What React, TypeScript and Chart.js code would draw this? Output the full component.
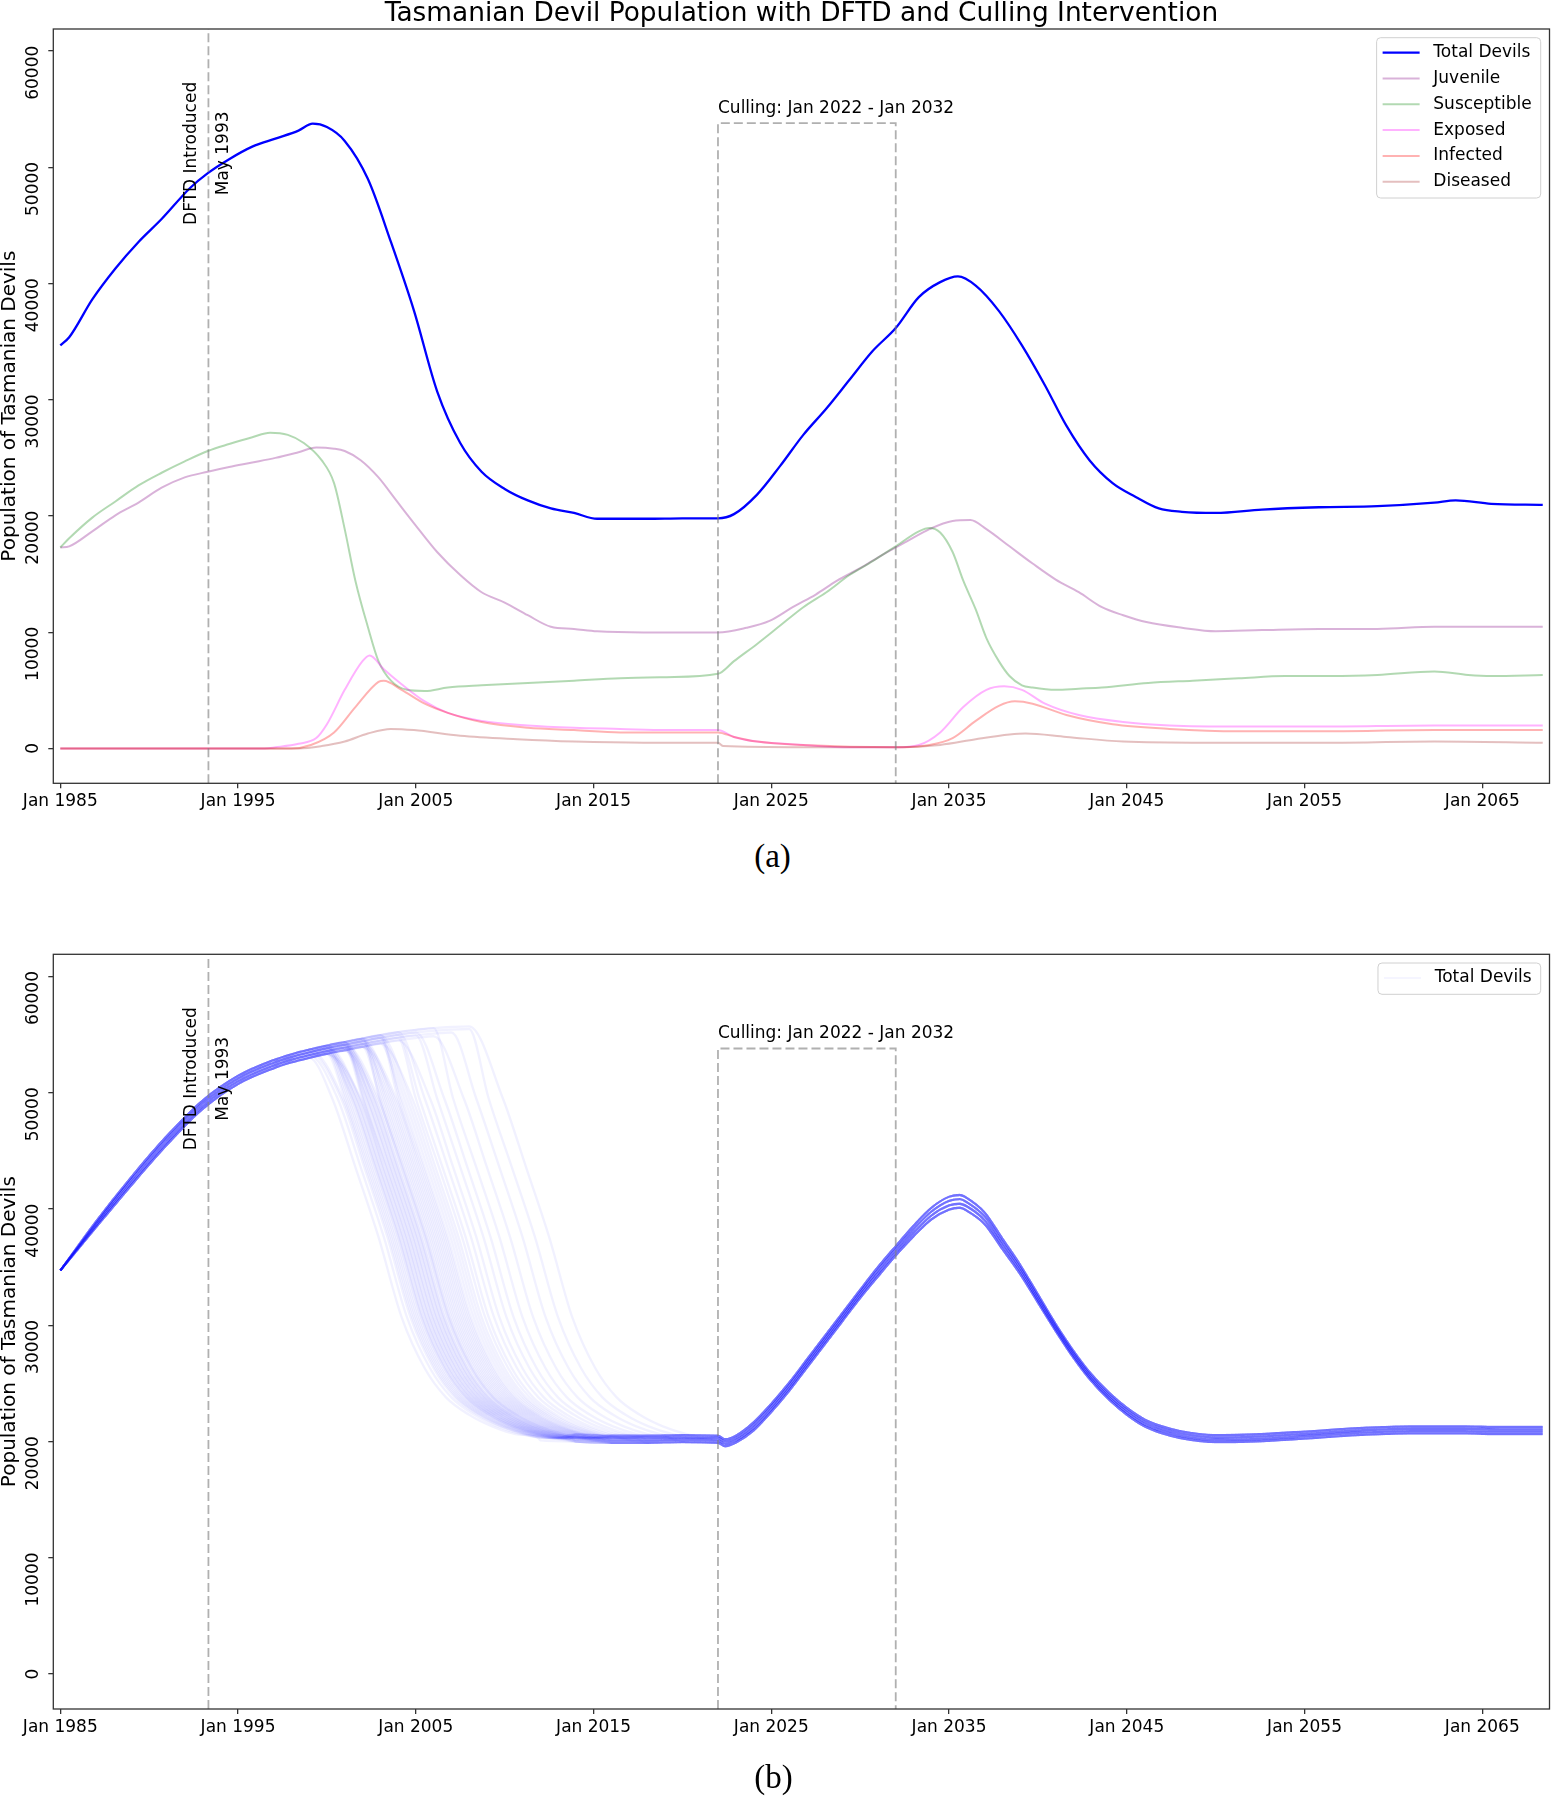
import React, { useEffect, useRef } from 'react';
import { Chart, registerables } from 'chart.js';

Chart.register(...registerables);

const FONT = "'DejaVu Sans', sans-serif";

// ---------- axes ----------
const xTickYears = [1985, 1995, 2005, 2015, 2025, 2035, 2045, 2055, 2065];
const yTickValues = [0, 10000, 20000, 30000, 40000, 50000, 60000];
const X_MIN = 1984.606;
const X_MAX = 2068.78;
const Y_MIN = -3000;
const Y_MAX = 61900;

// ---------- annotations ----------
const dftdYear = 1993 + 4 / 12; // May 1993
const dftdLabelValue = 51200;
const cullStart = 2022;
const cullEnd = 2032;
const cullBoxTop = 53800;

// ---------- panel (a): single run, [year, population] ----------
const totalDevils: [number, number][] = [
  [1985, 34680], [1985.5, 35380], [1986.8, 38640], [1988.1, 41300], [1989.4, 43580], [1990.7, 45550],
  [1992.3, 48220], [1993.3, 49500], [1994.5, 50700], [1995.8, 51780], [1997.1, 52470], [1998.4, 53160],
  [1999.2, 53750], [2000.0, 53460], [2001.0, 52270], [2002.3, 49010], [2003.6, 43580], [2004.9, 37650],
  [2006.2, 30730], [2007.5, 26280], [2008.7, 23810], [2010.0, 22330], [2011.3, 21340], [2012.6, 20650],
  [2013.9, 20260], [2015.2, 19760], [2018, 19760], [2020, 19800], [2022.0, 19800], [2022.9, 20160],
  [2024.2, 21840], [2025.5, 24310], [2026.8, 26980], [2028.1, 29250], [2029.4, 31720], [2030.7, 34190],
  [2032.0, 36170], [2033.3, 38830], [2034.5, 40120], [2035.5, 40610], [2036.5, 39820], [2037.8, 37650],
  [2039.1, 34680], [2040.4, 31230], [2041.6, 27770], [2042.9, 24800], [2044.2, 22830], [2045.5, 21640],
  [2046.8, 20650], [2048.1, 20360], [2050.0, 20260], [2052.6, 20550], [2055.8, 20750], [2059.1, 20850],
  [2062.3, 21150], [2063.5, 21340], [2065.5, 21050], [2068.4, 20950],
];

const juvenile: [number, number][] = [
  [1985, 17290], [1985.5, 17390], [1986.8, 18680], [1988.1, 20060], [1989.4, 21150], [1990.7, 22430],
  [1992.0, 23320], [1993.3, 23810], [1994.5, 24210], [1995.8, 24600], [1997.1, 25000], [1998.4, 25490],
  [1999.4, 25890], [2000.4, 25790], [2001.0, 25590], [2001.9, 24800], [2002.9, 23320], [2003.9, 21340],
  [2004.9, 19370], [2006.2, 16900], [2007.5, 14920], [2008.7, 13440], [2010.0, 12550], [2011.3, 11460],
  [2012.6, 10470], [2013.9, 10280], [2015.2, 10080], [2017.8, 9980], [2020.4, 9980], [2022.0, 9980],
  [2023.6, 10380], [2024.9, 10970], [2026.2, 12150], [2027.5, 13240], [2028.7, 14430], [2030.0, 15510],
  [2031.3, 16700], [2032.6, 17790], [2033.9, 18870], [2035.2, 19570], [2036.2, 19650], [2037.1, 18870],
  [2038.4, 17390], [2039.7, 15910], [2041.0, 14530], [2042.3, 13440], [2043.6, 12150], [2044.8, 11460],
  [2046.1, 10870], [2048.1, 10380], [2050.0, 10080], [2052.6, 10180], [2055.8, 10280], [2059.1, 10280],
  [2062.3, 10470], [2065.5, 10470], [2068.4, 10470],
];

const susceptible: [number, number][] = [
  [1985, 17290], [1985.5, 18080], [1986.8, 19860], [1988.1, 21250], [1989.4, 22630], [1990.7, 23720],
  [1992.0, 24700], [1993.3, 25590], [1994.5, 26190], [1995.8, 26780], [1996.8, 27170], [1997.8, 26980],
  [1998.7, 26280], [1999.7, 24800], [2000.4, 22830], [2001.0, 18870], [2001.6, 14430], [2002.3, 10470],
  [2002.9, 7510], [2003.6, 5830], [2004.5, 5040], [2005.5, 4940], [2006.8, 5240], [2008.7, 5430],
  [2011.3, 5630], [2013.9, 5830], [2016.5, 6030], [2019.1, 6130], [2022.0, 6420], [2022.9, 7510],
  [2024.2, 8990], [2025.5, 10570], [2026.8, 12150], [2028.1, 13440], [2029.4, 14920], [2030.7, 16110],
  [2032.0, 17390], [2033.3, 18680], [2033.9, 18970], [2034.5, 18580], [2035.2, 16900], [2035.8, 14430],
  [2036.5, 11960], [2037.1, 9490], [2037.8, 7510], [2038.4, 6230], [2039.1, 5430], [2039.7, 5240],
  [2041.0, 5040], [2042.3, 5140], [2043.6, 5240], [2046.2, 5630], [2048.7, 5830], [2051.3, 6030],
  [2053.9, 6230], [2056.5, 6230], [2059.1, 6320], [2062.3, 6620], [2064.2, 6320], [2065.5, 6230],
  [2068.4, 6320],
];

const exposed: [number, number][] = [
  [1985, 0], [1996.5, 0], [1997.1, 100], [1998.4, 400], [1999.4, 890], [2000.0, 2080], [2001.0, 5040],
  [2002.0, 7510], [2002.4, 8000], [2003.2, 6820], [2004.2, 5530], [2005.5, 4050], [2006.8, 3060],
  [2008.7, 2370], [2011.3, 1980], [2013.9, 1780], [2016.5, 1680], [2019.1, 1580], [2022.0, 1580],
  [2022.9, 990], [2024.2, 590], [2026.8, 300], [2029.4, 100], [2032.0, 100], [2033.3, 300],
  [2034.5, 1380], [2035.8, 3560], [2037.1, 5040], [2038.1, 5340], [2039.1, 5040], [2040.4, 3850],
  [2042.3, 2870], [2044.8, 2270], [2047.4, 1980], [2051.3, 1880], [2055.8, 1880], [2062.3, 1980],
  [2068.4, 1980],
];

const infected: [number, number][] = [
  [1985, 0], [1998.0, 0], [1999.1, 300], [2000.4, 1380], [2001.6, 3560], [2002.9, 5730], [2003.2, 5830],
  [2004.2, 5040], [2005.5, 3850], [2006.8, 3060], [2008.7, 2270], [2011.3, 1780], [2013.9, 1580],
  [2016.5, 1380], [2019.1, 1380], [2022.0, 1380], [2022.9, 990], [2024.2, 590], [2026.8, 300],
  [2032.0, 100], [2033.9, 300], [2035.2, 890], [2036.5, 2370], [2037.8, 3660], [2038.7, 4050],
  [2039.7, 3850], [2041.6, 2870], [2044.2, 2080], [2047.4, 1680], [2051.3, 1480], [2055.8, 1480],
  [2062.3, 1580], [2068.4, 1580],
];

const diseased: [number, number][] = [
  [1985, 0], [1998.4, 0], [1999.7, 200], [2001.0, 590], [2002.3, 1280], [2003.6, 1680], [2004.9, 1580],
  [2007.5, 1090], [2010.7, 790], [2013.9, 590], [2017.8, 490], [2022.0, 490], [2022.3, 200],
  [2026.8, 100], [2032.0, 100], [2034.5, 300], [2036.5, 790], [2038.4, 1190], [2039.3, 1280],
  [2041.6, 990], [2044.8, 590], [2049.4, 490], [2055.8, 490], [2062.3, 590], [2068.4, 490],
];

// ---------- panel (b): ensemble of runs ----------
// shared rise before disease spread (4 strands of the band)
const growthYears = [1985, 1987, 1989, 1991, 1993, 1995, 1997, 1998, 1999, 2000, 2001, 2002, 2003, 2004, 2005, 2006, 2007, 2008, 2009];
const growthA = [34700, 38400, 42050, 45520, 48580, 50750, 52100, 52600, 53000, 53350, 53650, 53950, 54250, 54500, 54700, 54850, 54950, 55000, 55000];
const growthB = [34700, 38560, 42270, 45760, 48820, 50980, 52330, 52830, 53230, 53580, 53880, 54180, 54480, 54730, 54930, 55080, 55180, 55230, 55230];
const growthC = [34700, 38740, 42530, 46040, 49080, 51220, 52570, 53070, 53470, 53820, 54120, 54420, 54720, 54970, 55170, 55320, 55420, 55470, 55470];
const growthD = [34700, 38900, 42750, 46280, 49320, 51450, 52800, 53300, 53700, 54050, 54350, 54650, 54950, 55200, 55400, 55550, 55650, 55700, 55700];

// collapse shape, years relative to the moment a run crosses 40 000
const declineTau = [-2.1, -0.8, 0.5, 1.8, 3.1, 4.3, 5.6, 6.9, 8.2, 9.5];
const declineValues = [49500, 43600, 37600, 30700, 26300, 23800, 22300, 21300, 20650, 20300];

// year each run crosses 40 000 on the way down
const collapseYears = [
  2002.4, 2002.7, 2002.9, 2003.0, 2003.1, 2003.2, 2003.3, 2003.4, 2003.5, 2003.55, 2003.6, 2003.7,
  2003.75, 2003.8, 2003.9, 2003.95, 2004.0, 2004.1, 2004.15, 2004.2, 2004.3, 2004.35, 2004.4, 2004.5,
  2004.55, 2004.6, 2004.7, 2004.75, 2004.8, 2004.9, 2005.0, 2005.05, 2005.1, 2005.2, 2005.3, 2005.4,
  2005.5, 2005.6, 2005.7, 2005.8, 2005.9, 2006.0, 2006.1, 2006.2, 2006.3, 2006.45, 2006.6, 2006.75,
  2006.9, 2007.1, 2007.3, 2007.6, 2007.9, 2008.3, 2008.7, 2009.2, 2009.8, 2010.5, 2011.2, 2012.0,
];

// shared low plateau, culling rebound and second collapse (4 strands)
const recoveryYears = [2012, 2014, 2016, 2018, 2020, 2022, 2022.4, 2023, 2024, 2025, 2026, 2027, 2028, 2029, 2030, 2031, 2032, 2033, 2034, 2035, 2035.6, 2036, 2037, 2038, 2039, 2040, 2041, 2042, 2043, 2044, 2045, 2046, 2047, 2048, 2050, 2052, 2055, 2058, 2061, 2064, 2066, 2068.4];
const recoveryA = [20100, 20000, 19900, 19900, 19950, 19900, 19600, 19900, 20950, 22550, 24350, 26350, 28350, 30350, 32350, 34200, 36000, 37650, 39100, 39950, 40100, 39850, 38700, 36550, 34400, 31950, 29500, 27200, 25200, 23600, 22300, 21300, 20700, 20300, 19950, 20000, 20250, 20550, 20700, 20700, 20650, 20650];
const recoveryB = [20300, 20200, 20100, 20100, 20150, 20100, 19800, 20100, 21180, 22780, 24580, 26580, 28580, 30580, 32580, 34460, 36260, 37950, 39430, 40300, 40450, 40220, 39030, 36850, 34670, 32180, 29700, 27400, 25400, 23800, 22500, 21500, 20900, 20500, 20150, 20200, 20450, 20750, 20900, 20900, 20850, 20850];
const recoveryC = [20500, 20400, 20300, 20300, 20350, 20300, 20000, 20300, 21420, 23020, 24820, 26820, 28820, 30820, 32820, 34740, 36540, 38250, 39770, 40700, 40850, 40580, 39370, 37150, 34930, 32420, 29900, 27600, 25600, 24000, 22700, 21700, 21100, 20700, 20350, 20400, 20650, 20950, 21100, 21100, 21050, 21050];
const recoveryD = [20700, 20600, 20500, 20500, 20550, 20500, 20200, 20500, 21650, 23250, 25050, 27050, 29050, 31050, 33050, 35000, 36800, 38550, 40100, 41050, 41200, 40950, 39700, 37450, 35200, 32650, 30100, 27800, 25800, 24200, 22900, 21900, 21300, 20900, 20550, 20600, 20850, 21150, 21300, 21300, 21250, 21250];

const growthStrands = [growthA, growthB, growthC, growthD];
const recoveryStrands = [recoveryA, recoveryB, recoveryC, recoveryD];

type Pt = { x: number; y: number };

function pairs(d: [number, number][]): Pt[] {
  return d.map(([x, y]) => ({ x, y }));
}

function buildRun(t40: number, strand: number): Pt[] {
  const pts: Pt[] = [];
  growthYears.forEach((yr, k) => {
    if (yr < t40 - 3) pts.push({ x: yr, y: growthStrands[strand][k] });
  });
  declineTau.forEach((tau, k) => pts.push({ x: t40 + tau, y: declineValues[k] }));
  const end = t40 + declineTau[declineTau.length - 1];
  recoveryYears.forEach((yr, k) => {
    if (yr > end) pts.push({ x: yr, y: recoveryStrands[strand][k] });
  });
  return pts;
}

// ---------- drawing helpers ----------
type LegendItem = { label: string; color: string; width: number };

function makeOverlay(opts: { title?: string; legend: LegendItem[] }) {
  return {
    id: 'overlay',
    afterDatasetsDraw(chart: any) {
      const { ctx, chartArea: a, scales } = chart;
      const xs = scales.x;
      const ys = scales.y;
      ctx.save();

      // frame
      ctx.strokeStyle = '#333';
      ctx.lineWidth = 1.3;
      ctx.strokeRect(a.left, a.top, a.right - a.left, a.bottom - a.top);

      ctx.fillStyle = '#000';

      // y tick labels (rotated)
      ctx.font = `17px ${FONT}`;
      yTickValues.forEach((v) => {
        const py = ys.getPixelForValue(v);
        ctx.save();
        ctx.translate(a.left - 19.6, py - 5.4);
        ctx.rotate(-Math.PI / 2);
        ctx.textAlign = 'right';
        ctx.textBaseline = 'middle';
        ctx.fillText(String(v), 0, 0);
        ctx.restore();
      });

      // y title
      ctx.save();
      ctx.font = `20px ${FONT}`;
      ctx.translate(10, (a.top + a.bottom) / 2);
      ctx.rotate(-Math.PI / 2);
      ctx.textAlign = 'center';
      ctx.textBaseline = 'middle';
      ctx.fillText('Population of Tasmanian Devils', 0, 0);
      ctx.restore();

      // title
      if (opts.title) {
        ctx.font = `26.4px ${FONT}`;
        ctx.textAlign = 'center';
        ctx.textBaseline = 'alphabetic';
        ctx.fillText(opts.title, (a.left + a.right) / 2, a.top - 8.3);
      }

      // DFTD label
      const dx = xs.getPixelForValue(dftdYear);
      const dy = ys.getPixelForValue(dftdLabelValue);
      ctx.font = `17px ${FONT}`;
      [['DFTD Introduced', -16.5], ['May 1993', 15.5]].forEach(([t, off]) => {
        ctx.save();
        ctx.translate(dx + (off as number), dy);
        ctx.rotate(-Math.PI / 2);
        ctx.textAlign = 'center';
        ctx.textBaseline = 'middle';
        ctx.fillText(t as string, 0, 0);
        ctx.restore();
      });

      // culling label
      ctx.textAlign = 'left';
      ctx.textBaseline = 'middle';
      ctx.fillText(
        `Culling: Jan ${cullStart} - Jan ${cullEnd}`,
        xs.getPixelForValue(cullStart),
        ys.getPixelForValue(cullBoxTop) - 14.5
      );

      // legend
      const items = opts.legend;
      let maxW = 0;
      items.forEach((it) => { maxW = Math.max(maxW, ctx.measureText(it.label).width); });
      const boxW = 56.7 + maxW + 9;
      const boxH = items.length * 25.8 + 5.5;
      const bx = a.right - 8.8 - boxW;
      const by = a.top + 8.7;
      ctx.beginPath();
      ctx.roundRect(bx, by, boxW, boxH, 4);
      ctx.fillStyle = 'rgba(255,255,255,0.8)';
      ctx.fill();
      ctx.strokeStyle = '#d0d0d0';
      ctx.lineWidth = 1;
      ctx.stroke();
      items.forEach((it, i) => {
        const ry = by + 15 + i * 25.8;
        ctx.beginPath();
        ctx.moveTo(bx + 6, ry);
        ctx.lineTo(bx + 43, ry);
        ctx.strokeStyle = it.color;
        ctx.lineWidth = it.width;
        ctx.stroke();
        ctx.fillStyle = '#000';
        ctx.textAlign = 'left';
        ctx.textBaseline = 'middle';
        ctx.fillText(it.label, bx + 56.7, ry);
      });

      ctx.restore();
    },
  };
}

function annotationDatasets() {
  const dash = { borderColor: 'rgba(128,128,128,0.62)', borderWidth: 1.8, borderDash: [9, 4], pointRadius: 0, fill: false, order: -1000, tension: 0 };
  return [
    { ...dash, label: '_dftd', data: [{ x: dftdYear, y: Y_MIN }, { x: dftdYear, y: Y_MAX }] },
    {
      ...dash,
      label: '_cull',
      data: [
        { x: cullStart, y: Y_MIN }, { x: cullStart, y: cullBoxTop },
        { x: cullEnd, y: cullBoxTop }, { x: cullEnd, y: Y_MIN },
      ],
    },
  ];
}

function scalesConfig(xAxisHeight: number) {
  const grid = { drawOnChartArea: false, drawTicks: true, tickLength: 5, color: '#333', lineWidth: 1.3 };
  return {
    x: {
      type: 'linear',
      min: X_MIN,
      max: X_MAX,
      afterBuildTicks: (s: any) => { s.ticks = xTickYears.map((v) => ({ value: v })); },
      afterFit: (s: any) => { s.height = xAxisHeight; },
      grid,
      border: { display: false },
      ticks: {
        autoSkip: false, maxRotation: 0, minRotation: 0, padding: 3, color: '#000',
        font: { family: FONT, size: 17 },
        callback: (v: any) => 'Jan ' + v,
      },
    },
    y: {
      type: 'linear',
      min: Y_MIN,
      max: Y_MAX,
      afterBuildTicks: (s: any) => { s.ticks = yTickValues.map((v) => ({ value: v })); },
      afterFit: (s: any) => { s.width = 53.3; },
      grid,
      border: { display: false },
      ticks: { display: false },
    },
  };
}

const compartmentStyles = [
  { label: 'Total Devils', data: totalDevils, color: 'rgb(0,0,255)', width: 2.3 },
  { label: 'Juvenile', data: juvenile, color: 'rgba(128,0,128,0.3)', width: 2 },
  { label: 'Susceptible', data: susceptible, color: 'rgba(0,128,0,0.3)', width: 2 },
  { label: 'Exposed', data: exposed, color: 'rgba(255,0,255,0.3)', width: 2 },
  { label: 'Infected', data: infected, color: 'rgba(255,0,0,0.3)', width: 2 },
  { label: 'Diseased', data: diseased, color: 'rgba(165,42,42,0.3)', width: 2 },
];

const RUN_COLOR = 'rgba(0,0,255,0.055)';

function topConfig(): any {
  const datasets: any[] = compartmentStyles.map((s, i) => ({
    label: s.label,
    data: pairs(s.data),
    borderColor: s.color,
    borderWidth: s.width,
    pointRadius: 0,
    fill: false,
    cubicInterpolationMode: 'monotone',
    order: -i,
  }));
  datasets.push(...annotationDatasets());
  return {
    type: 'line',
    data: { datasets },
    options: {
      responsive: false,
      animation: false,
      events: [],
      devicePixelRatio: 1,
      layout: { padding: { top: 29, left: 0, right: 1.5, bottom: 0 } },
      plugins: { legend: { display: false }, tooltip: { enabled: false }, title: { display: false } },
      scales: scalesConfig(46.7),
    },
    plugins: [
      makeOverlay({
        title: 'Tasmanian Devil Population with DFTD and Culling Intervention',
        legend: compartmentStyles.map((s) => ({ label: s.label, color: s.color, width: s.width })),
      }),
    ],
  };
}

function bottomConfig(): any {
  const datasets: any[] = collapseYears.map((t, i) => ({
    label: 'Total Devils',
    data: buildRun(t, i % 4),
    borderColor: RUN_COLOR,
    borderWidth: 2.4,
    pointRadius: 0,
    fill: false,
    cubicInterpolationMode: 'monotone',
  }));
  datasets.push(...annotationDatasets());
  return {
    type: 'line',
    data: { datasets },
    options: {
      responsive: false,
      animation: false,
      events: [],
      devicePixelRatio: 1,
      layout: { padding: { top: 54.3, left: 0, right: 1.5, bottom: 0 } },
      plugins: { legend: { display: false }, tooltip: { enabled: false }, title: { display: false } },
      scales: scalesConfig(51),
    },
    plugins: [makeOverlay({ legend: [{ label: 'Total Devils', color: RUN_COLOR, width: 1.5 }] })],
  };
}

function ChartCanvas({ make, top, height }: { make: () => any; top: number; height: number }) {
  const ref = useRef<HTMLCanvasElement>(null);
  useEffect(() => {
    const chart = new Chart(ref.current as HTMLCanvasElement, make());
    return () => chart.destroy();
  }, []);
  return (
    <canvas
      ref={ref}
      width={1551}
      height={height}
      style={{ position: 'absolute', left: 0, top, width: 1551, height }}
    />
  );
}

const captionStyle: React.CSSProperties = {
  position: 'absolute',
  left: 0,
  width: 1545,
  textAlign: 'center',
  fontFamily: "'Liberation Serif', serif",
  fontSize: 33,
  lineHeight: '33px',
  color: '#000',
};

export default function App() {
  return (
    <div style={{ position: 'absolute', left: 0, top: 0, width: 1551, height: 1800, background: '#fff', overflow: 'hidden' }}>
      <ChartCanvas make={topConfig} top={0} height={830} />
      <div style={{ ...captionStyle, top: 839.6 }}>(a)</div>
      <ChartCanvas make={bottomConfig} top={900} height={860} />
      <div style={{ ...captionStyle, top: 1761, width: 1547 }}>(b)</div>
    </div>
  );
}
